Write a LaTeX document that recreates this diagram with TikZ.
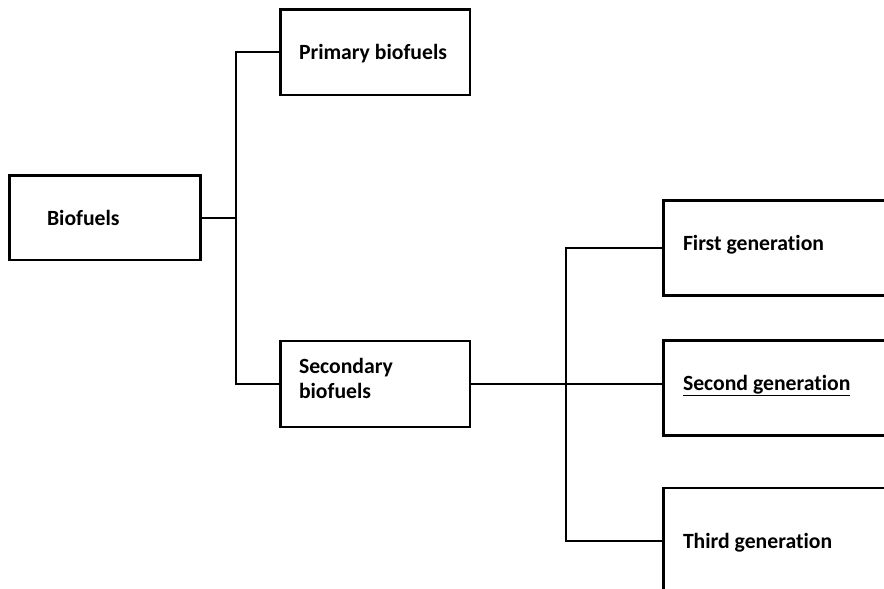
\documentclass[tikz,border=0pt]{standalone}
\usepackage{fontspec}
\setmainfont{Carlito}[Ligatures=NoCommon]
\begin{document}
\begin{tikzpicture}[x=1pt,y=-1pt,
  box/.style={draw=black,line width=2.8pt,rectangle,inner sep=0pt,outer sep=0pt,anchor=north west,fill=white},
  lbl/.style={anchor=base west,inner sep=0pt,outer sep=0pt,font=\fontsize{21.7}{25}\selectfont\bfseries,text=black},
  conn/.style={draw=black,line width=1.6pt}]
\useasboundingbox (0,0) rectangle (884,589);
\clip (0,0) rectangle (884,589);
% boxes
\node[box,minimum width=191pt,minimum height=84.5pt] (bio) at (9.5,175.5) {};
\node[box,minimum width=189.5pt,minimum height=85.5pt] (prim) at (280.5,9.5) {};
\node[box,minimum width=189.5pt,minimum height=86pt] (sec) at (280.5,341) {};
\node[box,minimum width=260pt,minimum height=95pt] (g1) at (663.5,200.5) {};
\node[box,minimum width=260pt,minimum height=95pt] (g2) at (663.5,340.5) {};
\node[box,minimum width=260pt,minimum height=106pt] (g3) at (663.5,488) {};
% junctions
\coordinate (j1) at (236,0);
\coordinate (j2) at (566,0);
% connectors
\draw[conn] (bio.east) -- (bio.east -| j1);
\draw[conn] (prim.west) -| (j1 |- sec.west) -- (sec.west);
\draw[conn] (sec.east) -- (sec.east -| g2.west);
\draw[conn] (g1.west) -| (j2 |- g3.west) -- (g3.west);
% labels
\node[lbl] (tbio) at (47,225) {Biofuels};
\node[lbl] (tprim) at (299,59) {Primary biofuels};
\node[lbl] (tsec1) at (299,373) {Secondary};
\node[lbl] (tsec2) at (299,398.5) {biofuels};
\node[lbl] (tg1) at (683,250) {First generation};
\node[lbl] (tg2) at (683,390) {\underline{Second generation}};
\node[lbl] (tg3) at (683,548) {Third generation};
\end{tikzpicture}
\end{document}
